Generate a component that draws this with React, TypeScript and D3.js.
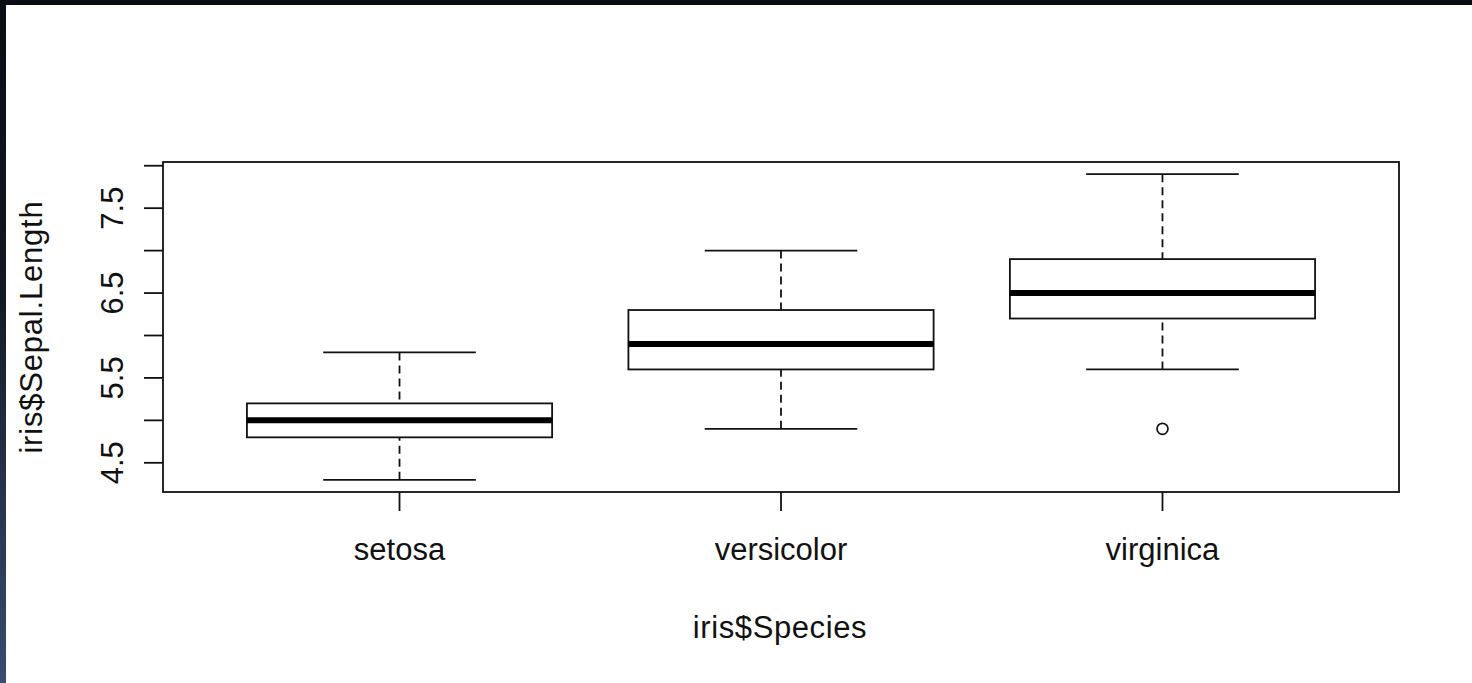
import * as d3 from "d3";
import { useEffect, useRef } from "react";

const species = ["setosa", "versicolor", "virginica"];
const whiskerLow = [4.3, 4.9, 5.6];
const hingeLow = [4.8, 5.6, 6.2];
const medians = [5.0, 5.9, 6.5];
const hingeHigh = [5.2, 6.3, 6.9];
const whiskerHigh = [5.8, 7.0, 7.9];
const outliers = [{ group: 3, value: 4.9 }];
const yTicks = [4.5, 5.0, 5.5, 6.0, 6.5, 7.0, 7.5, 8.0];
const yTickLabels = ["4.5", "5.5", "6.5", "7.5"];

function App() {
  const ref = useRef<SVGSVGElement>(null);

  useEffect(() => {
    const width = 1472;
    const height = 683;
    const left = 163, right = 1399, top = 162, bottom = 492;
    const font = "'Liberation Sans', Arial, sans-serif";
    const fontSize = 31;
    const lw = 1.8;

    const svg = d3.select(ref.current);
    svg.selectAll("*").remove();

    // window frame (dark strips top and left)
    const defs = svg.append("defs");
    const grad = defs.append("linearGradient")
      .attr("id", "leftStrip")
      .attr("x1", "0%").attr("y1", "0%")
      .attr("x2", "0%").attr("y2", "100%");
    grad.append("stop").attr("offset", "0%").attr("stop-color", "#0a0d13");
    grad.append("stop").attr("offset", "40%").attr("stop-color", "#111722");
    grad.append("stop").attr("offset", "100%").attr("stop-color", "#384c70");

    svg.append("rect").attr("width", width).attr("height", height).attr("fill", "#fff");
    svg.append("rect").attr("x", 0).attr("y", 0).attr("width", 6).attr("height", height).attr("fill", "url(#leftStrip)");
    svg.append("rect").attr("x", 0).attr("y", 0).attr("width", width).attr("height", 5).attr("fill", "#0a0d13");

    const yMin = d3.min(whiskerLow.concat(outliers.map(d => d.value)))!;
    const yMax = d3.max(whiskerHigh)!;
    const pad = (yMax - yMin) * 0.04;
    const y = d3.scaleLinear().domain([yMin - pad, yMax + pad]).range([bottom, top]);
    const xPad = 3 * 0.04;
    const x = d3.scaleLinear().domain([0.5 - xPad, species.length + 0.5 + xPad]).range([left, right]);

    const g = svg.append("g").attr("stroke", "#111").attr("stroke-width", lw).attr("fill", "none");

    species.forEach((s, i) => {
      const cx = x(i + 1);
      // whiskers
      g.append("line").attr("x1", cx).attr("x2", cx)
        .attr("y1", y(whiskerLow[i])).attr("y2", y(hingeLow[i]))
        .attr("stroke-dasharray", "8,5");
      g.append("line").attr("x1", cx).attr("x2", cx)
        .attr("y1", y(whiskerHigh[i])).attr("y2", y(hingeHigh[i]))
        .attr("stroke-dasharray", "8,5");
      // staples
      [whiskerLow[i], whiskerHigh[i]].forEach(v => {
        g.append("line")
          .attr("x1", x(i + 1 - 0.2)).attr("x2", x(i + 1 + 0.2))
          .attr("y1", y(v)).attr("y2", y(v));
      });
      // box
      g.append("rect")
        .attr("x", x(i + 1 - 0.4)).attr("width", x(i + 1.4) - x(i + 0.6))
        .attr("y", y(hingeHigh[i])).attr("height", y(hingeLow[i]) - y(hingeHigh[i]));
      // median
      g.append("line")
        .attr("x1", x(i + 1 - 0.4)).attr("x2", x(i + 1 + 0.4))
        .attr("y1", y(medians[i])).attr("y2", y(medians[i]))
        .attr("stroke", "#000").attr("stroke-width", 6);
    });

    outliers.forEach(o => {
      g.append("circle").attr("cx", x(o.group)).attr("cy", y(o.value)).attr("r", 5.5).attr("stroke-width", 1.7);
    });

    // plot frame
    svg.append("rect")
      .attr("x", left).attr("y", top).attr("width", right - left).attr("height", bottom - top)
      .attr("fill", "none").attr("stroke", "#111").attr("stroke-width", lw);

    // y axis
    const ya = svg.append("g");
    yTicks.forEach(t => {
      ya.append("line").attr("x1", left - 19).attr("x2", left)
        .attr("y1", y(t)).attr("y2", y(t))
        .attr("stroke", "#111").attr("stroke-width", lw);
    });
    yTickLabels.forEach(l => {
      ya.append("text")
        .attr("transform", `translate(123,${y(+l)}) rotate(-90)`)
        .attr("text-anchor", "middle")
        .attr("font-family", font).attr("font-size", fontSize)
        .attr("fill", "#111")
        .text(l);
    });

    // x axis
    species.forEach((s, i) => {
      svg.append("line").attr("x1", x(i + 1)).attr("x2", x(i + 1))
        .attr("y1", bottom).attr("y2", bottom + 19)
        .attr("stroke", "#111").attr("stroke-width", lw);
      svg.append("text")
        .attr("x", x(i + 1)).attr("y", 560)
        .attr("text-anchor", "middle")
        .attr("font-family", font).attr("font-size", fontSize)
        .attr("fill", "#111")
        .text(s);
    });

    // axis titles
    svg.append("text")
      .attr("x", (left + right) / 2 - 1).attr("y", 638)
      .attr("text-anchor", "middle")
      .attr("font-family", font).attr("font-size", fontSize)
      .attr("letter-spacing", 0.6)
      .attr("fill", "#111")
      .text("iris$Species");
    svg.append("text")
      .attr("transform", `translate(42,${(top + bottom) / 2}) rotate(-90)`)
      .attr("text-anchor", "middle")
      .attr("font-family", font).attr("font-size", fontSize)
      .attr("letter-spacing", 0.8)
      .attr("fill", "#111")
      .text("iris$Sepal.Length");
  }, []);

  return (
    <svg ref={ref} width={1472} height={683}
      style={{ position: "absolute", left: 0, top: 0, display: "block" }} />
  );
}

export default App;
